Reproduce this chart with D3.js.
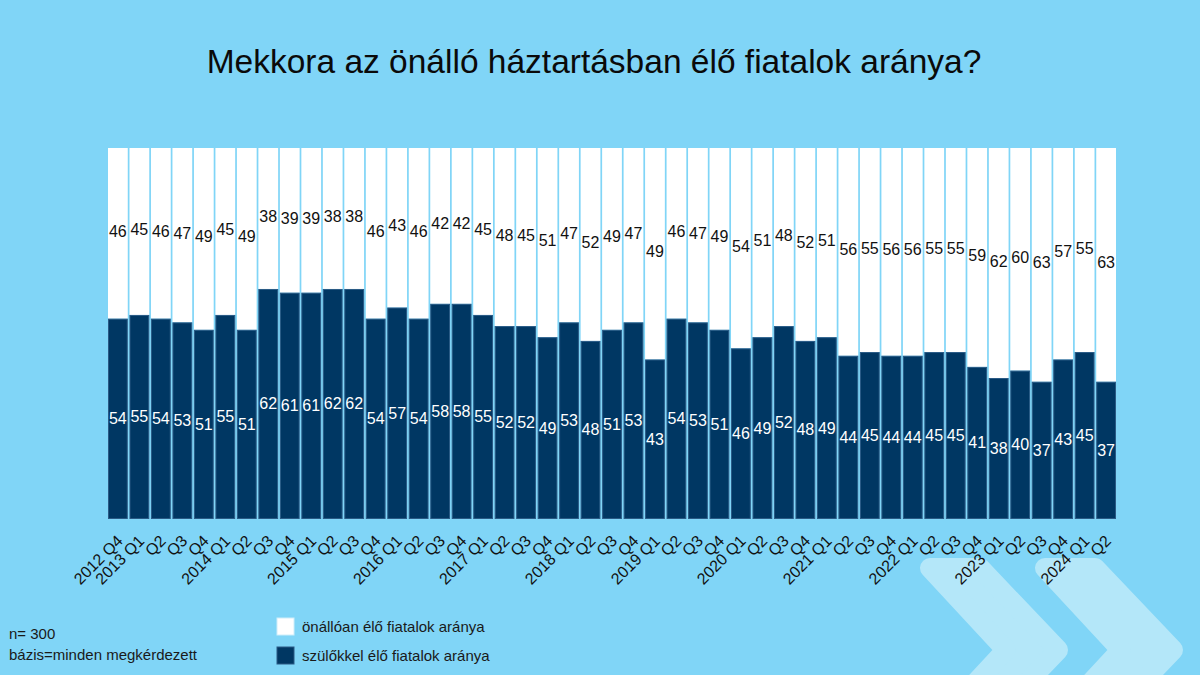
<!DOCTYPE html>
<html>
<head>
<meta charset="utf-8">
<script src="https://cdn.jsdelivr.net/npm/d3@7"></script>
<style>
  body { margin: 0; background: #80d5f7; }
  svg { display: block; font-family: "Liberation Sans", Arial, sans-serif; }
</style>
</head>
<body>
<div id="chart"></div>
<script>
// period labels (x axis)
const periodLabels = [
    "2012 Q4",
    "2013 Q1", "Q2", "Q3", "Q4",
    "2014 Q1", "Q2", "Q3", "Q4",
    "2015 Q1", "Q2", "Q3", "Q4",
    "2016 Q1", "Q2", "Q3", "Q4",
    "2017 Q1", "Q2", "Q3", "Q4",
    "2018 Q1", "Q2", "Q3", "Q4",
    "2019 Q1", "Q2", "Q3", "Q4",
    "2020 Q1", "Q2", "Q3", "Q4",
    "2021 Q1", "Q2", "Q3", "Q4",
    "2022 Q1", "Q2", "Q3", "Q4",
    "2023 Q1", "Q2", "Q3", "Q4",
    "2024 Q1", "Q2"
];

// szülőkkel élő fiatalok aránya (%)
const withParents = [
    54, 55, 54, 53, 51, 55, 51, 62, 61, 61, 62, 62, 54, 57, 54, 58,
    58, 55, 52, 52, 49, 53, 48, 51, 53, 43, 54, 53, 51, 46, 49, 52,
    48, 49, 44, 45, 44, 44, 45, 45, 41, 38, 40, 37, 43, 45, 37
];

// önállóan élő fiatalok aránya (%)
const independent = [
    46, 45, 46, 47, 49, 45, 49, 38, 39, 39, 38, 38, 46, 43, 46, 42,
    42, 45, 48, 45, 51, 47, 52, 49, 47, 49, 46, 47, 49, 54, 51, 48,
    52, 51, 56, 55, 56, 56, 55, 55, 59, 62, 60, 63, 57, 55, 63
];

const seriesNames = ["önállóan élő fiatalok aránya", "szülőkkel élő fiatalok aránya"];
const notes = ["n= 300", "bázis=minden megkérdezett"];
const title = "Mekkora az önálló háztartásban élő fiatalok aránya?";

const width = 1200, height = 675;
const bg = "#80d5f7", navy = "#003763", light = "#b4e7f9";

const svg = d3.select("#chart").append("svg")
    .attr("width", width)
    .attr("height", height);

svg.append("rect")
    .attr("width", width)
    .attr("height", height)
    .attr("fill", bg);

// decorative chevrons bottom right
const chevron = "M930,568 L980,568 L1058,650 L980,732 L930,732 L1006,650 Z";
[0, 115].forEach(dx => {
    svg.append("path")
        .attr("d", chevron)
        .attr("transform", `translate(${dx},0)`)
        .attr("fill", light)
        .attr("stroke", light)
        .attr("stroke-width", 20)
        .attr("stroke-linejoin", "round");
});

svg.append("text")
    .attr("x", 594)
    .attr("y", 73)
    .attr("text-anchor", "middle")
    .attr("font-size", 33.5)
    .attr("fill", "#0a0a0a")
    .text(title);

const plot = { left: 108, right: 1116, top: 148, bottom: 519 };

const x = d3.scaleBand()
    .domain(d3.range(periodLabels.length))
    .range([plot.left, plot.right])
    .paddingInner(0.08)
    .paddingOuter(0);

const y = d3.scaleLinear()
    .domain([0, 100])
    .range([plot.bottom, plot.top]);

const idx = d3.range(periodLabels.length);

// white part: from the navy top up to 100%
svg.append("g").selectAll("rect")
    .data(idx)
    .enter().append("rect")
    .attr("x", i => x(i))
    .attr("y", y(100))
    .attr("width", x.bandwidth())
    .attr("height", i => y(withParents[i]) - y(100))
    .attr("fill", "#ffffff");

svg.append("g").selectAll("rect")
    .data(idx)
    .enter().append("rect")
    .attr("x", i => x(i) + 0.5)
    .attr("y", i => y(withParents[i]) + 0.5)
    .attr("width", x.bandwidth() - 1)
    .attr("height", i => y(0) - y(withParents[i]) - 1)
    .attr("fill", navy)
    .attr("stroke", "#2a5a85")
    .attr("stroke-width", 1);

// value labels
svg.append("g").selectAll("text")
    .data(idx)
    .enter().append("text")
    .attr("x", i => x(i) + x.bandwidth() / 2)
    .attr("y", i => y((100 + withParents[i]) / 2) - 2)
    .attr("text-anchor", "middle")
    .attr("dominant-baseline", "central")
    .attr("font-size", 16)
    .attr("fill", "#111")
    .text(i => independent[i]);

svg.append("g").selectAll("text")
    .data(idx)
    .enter().append("text")
    .attr("x", i => x(i) + x.bandwidth() / 2)
    .attr("y", i => y(withParents[i] / 2))
    .attr("text-anchor", "middle")
    .attr("dominant-baseline", "central")
    .attr("font-size", 16)
    .attr("fill", "#ffffff")
    .text(i => withParents[i]);

// x axis
const xAxis = svg.append("g")
    .attr("transform", `translate(0,${plot.bottom})`)
    .call(d3.axisBottom(x).tickSize(0).tickFormat(i => periodLabels[i]));

xAxis.select(".domain").remove();
xAxis.selectAll("text")
    .attr("x", 0)
    .attr("y", 0)
    .attr("dy", 0)
    .attr("transform", "translate(6,23) rotate(-45)")
    .attr("text-anchor", "end")
    .attr("font-size", 16)
    .attr("font-family", "Liberation Sans, Arial, sans-serif")
    .attr("fill", "#111");

// notes
notes.forEach((t, i) => {
    svg.append("text")
        .attr("x", 9)
        .attr("y", 639 + i * 21)
        .attr("font-size", 15)
        .attr("fill", "#1a1a1a")
        .text(t);
});

// legend
const legendColors = ["#ffffff", navy];
seriesNames.forEach((name, i) => {
    const g = svg.append("g")
        .attr("transform", `translate(277,${618 + i * 29})`);
    g.append("rect")
        .attr("width", 17)
        .attr("height", 17)
        .attr("fill", legendColors[i])
        .attr("stroke", i === 0 ? "#cfeefa" : "#2a5a85")
        .attr("stroke-width", 1);
    g.append("text")
        .attr("x", 25)
        .attr("y", 14)
        .attr("font-size", 15)
        .attr("fill", "#1a1a1a")
        .text(name);
});
</script>
</body>
</html>
